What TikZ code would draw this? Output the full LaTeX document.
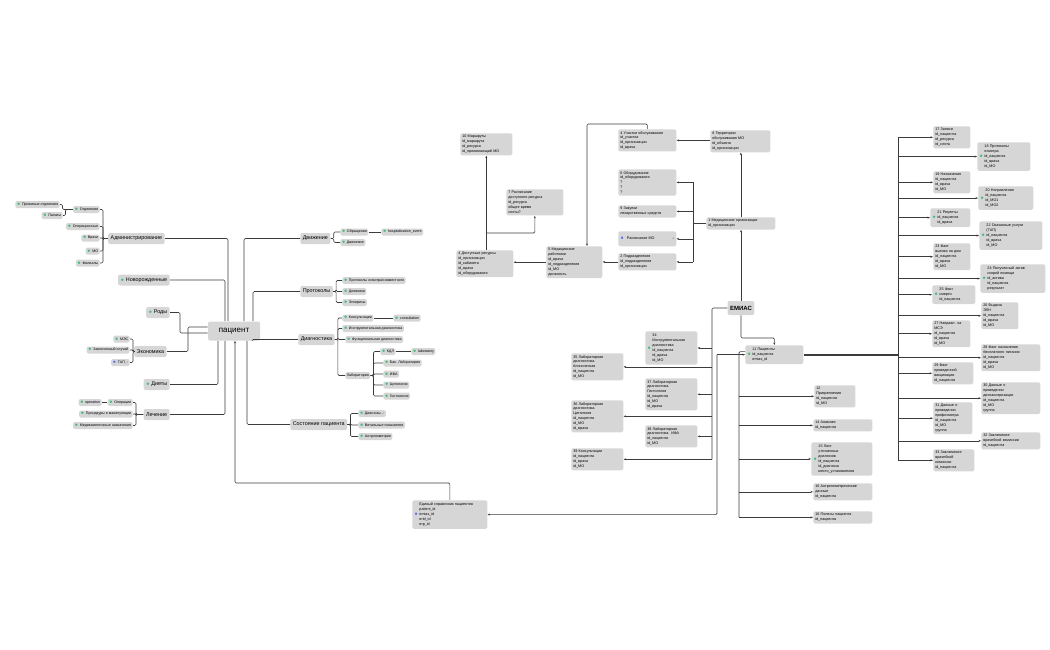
\documentclass[tikz,border=0pt]{standalone}
\usepackage{fontspec}
\usepackage{graphicx}
\setmainfont{Liberation Sans}
\usetikzlibrary{arrows.meta}

\definecolor{boxgray}{RGB}{214,214,214}
\definecolor{linegray}{RGB}{60,60,60}
\definecolor{icgreen}{RGB}{60,190,120}
\definecolor{icblue}{RGB}{90,110,255}

\newcommand\ic{{\color{icgreen}$\bullet$}\hspace{1.5pt}}
\newcommand\icbox[1]{\ic\begin{tabular}[c]{@{}l@{}}#1\end{tabular}}
\newcommand\ext{\,\scalebox{0.4}{$\nearrow$}}

\tikzset{every picture/.style={line width=0.6pt}}
\tikzset{
  box/.style={fill=boxgray, rounded corners=1.5pt, font=\fontsize{3.7}{4.9}\selectfont,
    align=left, inner sep=2pt, anchor=north west, text width=#1},
  leaf/.style={fill=boxgray, rounded corners=1.5pt, font=\fontsize{3.6}{4.4}\selectfont,
    inner sep=1.5pt, minimum height=7pt},
  cat/.style={fill=boxgray, rounded corners=2pt, font=\fontsize{5.4}{6}\selectfont,
    inner sep=2.5pt, minimum height=11pt},
  link/.style={draw=linegray, rounded corners=1.2pt},
  arr/.style={link, -{Stealth[length=2.5pt,width=2pt]}},
}

\begin{document}
\begin{tikzpicture}[x=1pt,y=1pt,yscale=-1]
  \useasboundingbox (0,0) rectangle (1050,650);

  % mind map: patient
  \node[cat, font=\fontsize{8}{9}\selectfont, minimum width=52pt, minimum height=19pt] (pat) at (234,331) {пациент};

  \node[cat, anchor=east] (adm) at (165,238.5) {Администрирование};
  \node[leaf, anchor=east] (la1) at (100,209.5) {\ic Отделения};
  \node[leaf, anchor=east] (la2) at (100,226.5) {\ic Операционные};
  \node[leaf, anchor=east] (la3) at (100,238) {\ic Врачи};
  \node[leaf, anchor=east] (la4) at (100,251) {\ic МО};
  \node[leaf, anchor=east] (la5) at (100,263) {\ic Филиалы};
  \node[leaf, anchor=east] (lp1) at (60,204.5) {\ic Приемные отделения};
  \node[leaf, anchor=east] (lp2) at (63,215.5) {\ic Палаты};
  \node[cat, anchor=east] (newb) at (170,280) {\ic Новорожденные};
  \node[cat, anchor=east] (rody) at (170,312.5) {\ic Роды};

  \node[cat, anchor=east] (econ) at (167,351.5) {Экономика};
  \node[leaf, anchor=east] (e1) at (130,339) {\ic МЭС};
  \node[leaf, anchor=east] (e2) at (130,350) {\ic Законченный случай};
  \node[leaf, anchor=east] (e3) at (130,362.5) {{\color{icblue}$\bullet$}\hspace{1.5pt}ТАП\ext};
  \node[cat, anchor=east] (diet) at (170,384.5) {\ic Диеты};
  \node[cat, anchor=east] (lech) at (170,414.5) {Лечение};
  \node[leaf, anchor=east] (op1) at (133,402.5) {\ic Операции};
  \node[leaf, anchor=east] (op2) at (102,402.5) {\ic operation};
  \node[leaf, anchor=east] (proc) at (133,414) {\ic Процедуры и манипуляции};
  \node[leaf, anchor=east] (med) at (133,425.5) {\ic Медикаментозные назначения};

  \node[cat, anchor=west] (mov) at (300,238.5) {Движение};
  \node[leaf, anchor=west] (mv1) at (340,232) {\ic Обращения};
  \node[leaf, anchor=west] (hosp) at (381,232) {\ic hospitalization\_event};
  \node[leaf, anchor=west] (mv2) at (340,242.5) {\ic Движение};

  \node[cat, anchor=west] (prot) at (300,291.5) {Протоколы};
  \node[leaf, anchor=west] (p1) at (342,280.5) {\ic Протоколы осмотра/совместного};
  \node[leaf, anchor=west] (p2) at (342,291.5) {\ic Дневники};
  \node[leaf, anchor=west] (p3) at (342,302.5) {\ic Эпикризы};

  \node[cat, anchor=west] (diag) at (298,339.5) {Диагностика};
  \node[leaf, anchor=west] (d1) at (342,318) {\ic Консультации};
  \node[leaf, anchor=west] (cons) at (393,318) {\ic consultation};
  \node[leaf, anchor=west] (d2) at (342,328.5) {\ic Инструментальная диагностика};
  \node[leaf, anchor=west] (d3) at (345,339.5) {\ic Функциональная диагностика};
  \node[leaf, anchor=west] (lab) at (345,375.5) {Лаборатория};
  \node[leaf, anchor=west] (l1) at (380,351.5) {\ic КДЛ};
  \node[leaf, anchor=west] (kdl) at (411,351.5) {\ic laboratory};
  \node[leaf, anchor=west] (l2) at (383,363) {\ic Бак. Лаборатория};
  \node[leaf, anchor=west] (l3) at (383,374) {\ic ИФА};
  \node[leaf, anchor=west] (l4) at (383,385) {\ic Цитология};
  \node[leaf, anchor=west] (l5) at (383,396) {\ic Гистология};

  \node[cat, anchor=west] (state) at (290,424.5) {Состояние пациента};
  \node[leaf, anchor=west] (s1) at (358,413.5) {\ic Диагнозы\ext};
  \node[leaf, anchor=west] (s2) at (358,425) {\ic Витальные показатели};
  \node[leaf, anchor=west] (s3) at (358,436.5) {\ic Антропометрия};

  \foreach \c in {la1,la2,la3,la4,la5} \draw[link] (\c.east) -- ++(3,0) |- (adm.west);
  \foreach \c in {lp1,lp2} \draw[link] (\c.east) -- ++(2.5,0) |- (la1.west);
  \foreach \c in {e1,e2,e3} \draw[link] (\c.east) -- ++(3,0) |- (econ.west);
  \foreach \c in {op1,proc,med} \draw[link] (\c.east) -- ++(3,0) |- (lech.west);
  \draw[link] (op2) -- (op1);
  \foreach \c in {mv1,mv2} \draw[link] (mov.east) -- ++(3,0) |- (\c.west);
  \draw[link] (mv1) -- (hosp);
  \foreach \c in {p1,p2,p3} \draw[link] (prot.east) -- ++(3,0) |- (\c.west);
  \foreach \c in {d1,d2,d3,lab} \draw[link] (diag.east) -- ++(3,0) |- (\c.west);
  \draw[link] (d1) -- (cons);
  \foreach \c in {l1,l2,l3,l4,l5} \draw[link] (lab.east) -- ++(3,0) |- (\c.west);
  \draw[link] (l1) -- (kdl);
  \foreach \c in {s1,s2,s3} \draw[link] (state.east) -- ++(3,0) |- (\c.west);

  \draw[link] (adm.east) -| ([xshift=-6pt]pat.north);
  \draw[link] (newb.east) -| ([xshift=-9pt]pat.north);
  \draw[link] ([xshift=10pt]pat.north) |- (mov.west);
  \draw[link] ([xshift=19pt]pat.north) |- (prot.west);
  \draw[link] (rody.east) -- ++(10,0) |- ([yshift=2pt]pat.west);
  \draw[link] (econ.east) -- ++(21,0) |- ([yshift=-4pt]pat.west);
  \draw[link] (diet.east) -| ([xshift=-16pt]pat.south);
  \draw[link] (lech.east) -| ([xshift=-9pt]pat.south);
  \draw[link] ([xshift=18pt]pat.south) |- (diag.west);
  \draw[link] ([xshift=13pt]pat.south) |- (state.west);

  % patient registry
  \node[box=71pt] (esp) at (412,500) {{\color{icblue}$\bullet$}\hspace{1.5pt}\begin{tabular}[c]{@{}l@{}}Единый справочник пациентов\\patient\_id\\emias\_id\\erid\_id\\erp\_id\end{tabular}};
  \coordinate (espbend) at (235,483);
  \draw[arr, {Stealth[length=2.5pt,width=2pt]}-] (pat.south -| espbend) -- (espbend) -| (esp.north);

  % organisations
  \node[box=48pt] (m10) at (460,133) {10 Маршруты\\id\_маршрута\\id\_ресурса\\id\_принимающий МО};
  \node[box=53pt] (m7) at (506,189) {7 Расписание\\доступного ресурса\\id\_ресурса\\общее время\\слоты?};
  \node[box=53pt] (m4d) at (456,250) {4 Доступные ресурсы\\id\_организации\\id\_кабинета\\id\_врача\\id\_оборудования};
  \node[box=52pt] (m5) at (546,246) {5 Медицинские\\работники\\id\_врача\\id\_подразделения\\id\_МО\\должность};
  \node[box=54pt] (m4u) at (618,129) {4 Участки обслуживания\\id\_участка\\id\_организации\\id\_врача};
  \node[box=54pt] (m6) at (618,169) {6 Оборудование\\id\_оборудования\\?\\?\\?};
  \node[box=54pt] (m9) at (618,205) {9 Закупки\\лекарственных средств};
  \node[box=54pt, minimum height=15pt] (msch) at (618,231) {{\color{icblue}$\bullet$}\hspace{3pt}Расписание МО\hfill\ext};
  \node[box=54pt] (m2) at (618,253) {2 Подразделения\\id\_подразделения\\id\_организации};
  \node[box=56pt] (m8) at (710,130) {8 Территории\\обслуживания МО\\id\_объекта\\id\_организации};
  \node[box=65pt] (m1) at (706,217) {1 Медицинские организации\\id\_организации};
  \node[cat, font=\fontsize{6}{7}\bfseries, minimum height=14pt] (emias) at (741,308) {ЕМИАС};

  \draw[arr] (m5.west) -- (m5.west -| m4d.east);
  \draw[arr] (m2.west) -- (m2.west -| m5.east);
  \coordinate (t5) at (587,124);
  \draw[arr] (m4u.north) |- (t5) -- (t5 |- m5.north);
  \draw[arr] (m10.south |- m4d.north) -- (m10.south);
  \coordinate (b7) at (486,233);
  \draw[arr] (b7) -| (m7.south);
  \draw[arr] (m8.west |- m4u.east) -- (m4u.east);
  \coordinate (bus1) at (693,225);
  \draw[link] (m1.west) -- (m1.west -| bus1);
  \draw[link] (bus1 |- m6.east) -- (bus1 |- m2.east);
  \foreach \c in {m6,m9,msch,m2} \draw[arr] (bus1 |- \c.east) -- (\c.east);
  \draw[arr] (m1.north) -- (m1.north |- m8.south);
  \draw[arr] (emias.north) -- (emias.north |- m1.south);

  % diagnostics
  \node[box=48pt] (g34) at (645,331) {\icbox{34\\Инструментальная\\диагностика\\id\_пациента\\id\_врача\\id\_МО}};
  \node[box=48pt] (g35) at (571,353) {35 Лабораторная\\диагностика.\\Клиническая\\id\_пациента\\id\_МО};
  \node[box=48pt] (g37) at (645,378) {37 Лабораторная\\диагностика.\\Гистология\\id\_пациента\\id\_МО\\id\_врача};
  \node[box=48pt] (g36) at (571,400) {36 Лабораторная\\диагностика.\\Цитология\\id\_пациента\\id\_МО\\id\_врача};
  \node[box=48pt] (g38) at (645,425) {38 Лабораторная\\диагностика. ИФА\\id\_пациента\\id\_МО};
  \node[box=48pt] (g39) at (571,448) {39 Консультации\\id\_пациента\\id\_врача\\id\_МО};
  \coordinate (bus2) at (712,308);
  \draw[link] (emias.west) -- (bus2) -- (bus2 |- g39.east);
  \foreach \c in {g34,g35,g37,g36,g38,g39} \draw[arr] (bus2 |- \c.east) -- (\c.east);

  % patients
  \node[box=54pt] (p11) at (745,345) {\icbox{11 Пациенты\\id\_пациента\\emias\_id}};
  \draw[arr] (emias.south) |- (757,338) -| (p11.north);
  \coordinate (bus3) at (717,350);
  \draw[arr] (bus3 |- p11.west) -- (p11.west);
  \draw[arr] (bus3 |- p11.west) |- (esp.east);

  \node[box=37pt] (p12) at (814,385) {12\\Прикрепления\\id\_пациента\\id\_МО};
  \node[box=55pt] (p14) at (813,419) {14 Анамнез\\id\_пациента};
  \node[box=57pt] (p15) at (811,442) {\icbox{15 Лист\\уточненных\\диагнозов\\id\_пациента\\id\_диагноза\\место\_установления}};
  \node[box=55pt] (p16) at (813,483) {16 Антропометрические\\данные\\id\_пациента};
  \node[box=55pt] (p16b) at (813,511) {16 Полисы пациента\\id\_пациента};
  \coordinate (bus4) at (739,358);
  \draw[link] ([yshift=-3pt]p11.west) -| (bus4 |- p16b.west);
  \foreach \c in {p12,p14,p15,p16,p16b} \draw[arr] (bus4 |- \c.west) -- (\c.west);

  % patient records
  \node[box=33pt] (r17) at (933,126) {17 Записи\\id\_пациента\\id\_ресурса\\id\_слота};
  \node[box=49pt] (r18) at (977,142) {\icbox{18 Протоколы\\осмотра\\id\_пациента\\id\_врача\\id\_МО}};
  \node[box=33pt] (r19) at (933,171) {19 Назначения\\id\_пациента\\id\_врача\\id\_МО};
  \node[box=51pt] (r20) at (978,186) {\icbox{20 Направления\\id\_пациента\\id\_МО1\\id\_МО2}};
  \node[box=36pt] (r21) at (930,208) {\icbox{21 Рецепты\\id\_пациента\\id\_врача}};
  \node[box=59pt] (r22) at (979,221) {\icbox{22 Оказанные услуги\\(ТАП)\\id\_пациента\\id\_врача\\id\_МО}};
  \node[box=33pt] (r23) at (933,243) {23 Факт\\вызова на дом\\id\_пациента\\id\_врача\\id\_МО};
  \node[box=61pt] (r24) at (980,264) {\icbox{24 Полученный актив\\скорой помощи\\id\_актива\\id\_пациента\\результат}};
  \node[box=39pt] (r25) at (932,285) {\icbox{25 Факт\\смерти\\id\_пациента}};
  \node[box=33pt] (r26) at (981,302) {26 Выдача\\ЭЛН\\id\_пациента\\id\_врача\\id\_МО};
  \node[box=34pt] (r27) at (932,320) {27 Направл. на\\МСЭ\\id\_пациента\\id\_врача\\id\_МО};
  \node[box=55pt] (r28) at (981,344) {28 Факт назначения\\бесплатного питания\\id\_пациента\\id\_врача\\id\_МО};
  \node[box=37pt] (r29) at (932,362) {29 Факт\\проведенной\\вакцинации\\id\_пациента};
  \node[box=55pt] (r30) at (981,382) {30 Данные о\\проведении\\диспансеризации\\id\_пациента\\id\_МО\\группа};
  \node[box=35pt] (r31) at (933,402) {31 Данные о\\проведении\\профосмотра\\id\_пациента\\id\_МО\\группа};
  \node[box=55pt] (r32) at (981,432) {32 Заключение\\врачебной комиссии\\id\_пациента};
  \node[box=37pt] (r33) at (933,449) {33 Заключение\\врачебной\\комиссии\\id\_пациента};
  \coordinate (bus5) at (898,139);
  \draw[link, line width=2.2pt, rounded corners=0pt] (p11.east) -- (p11.east -| bus5);
  \draw[link, line width=1pt] (bus5 |- r17.west) -- (bus5 |- r33.west);
  \foreach \c in {r17,r18,r19,r20,r21,r22,r23,r24,r25,r26,r27,r28,r29,r30,r31,r32,r33}
    \draw[arr] (bus5 |- \c.west) -- (\c.west);
\end{tikzpicture}
\end{document}
